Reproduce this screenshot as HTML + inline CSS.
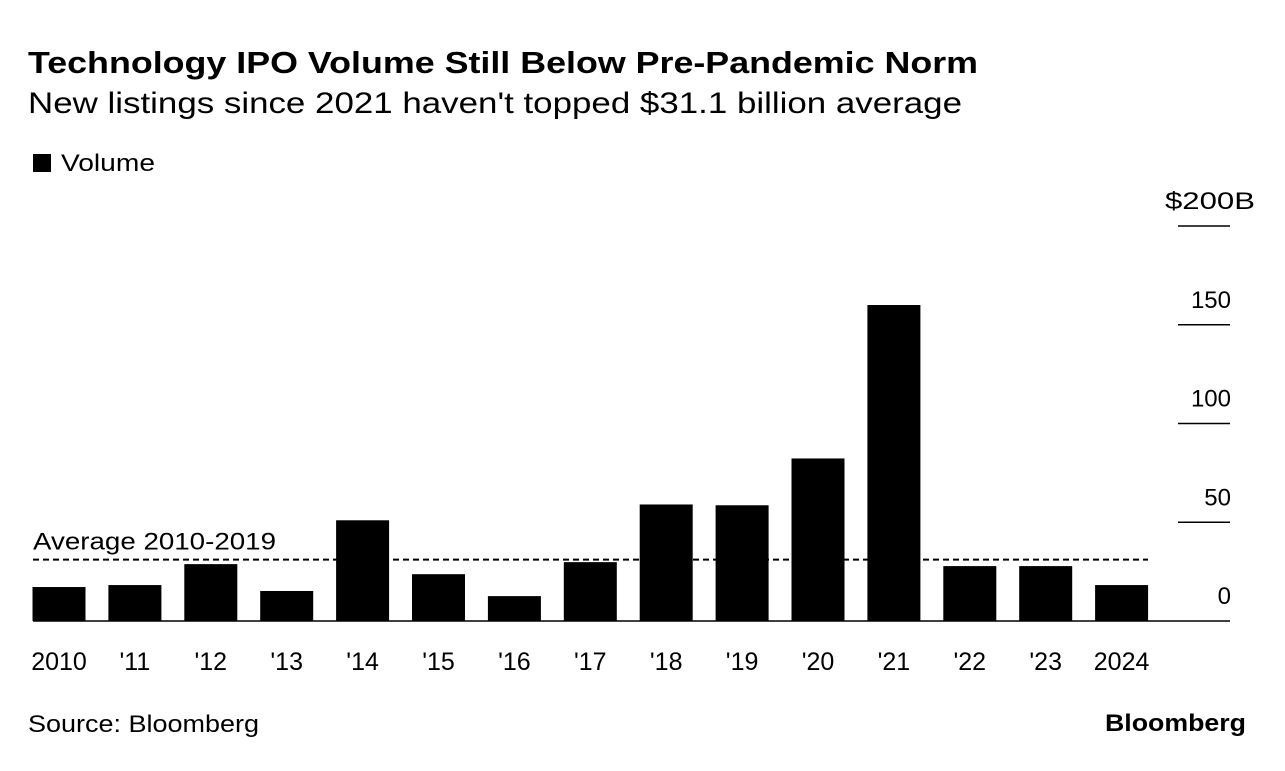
<!DOCTYPE html>
<html><head><meta charset="utf-8"><style>
body{margin:0;background:#fff;width:1285px;height:766px;overflow:hidden;font-family:"Liberation Sans",sans-serif;color:#000}
</style></head><body>
<svg width="1285" height="766" xmlns="http://www.w3.org/2000/svg" font-family="Liberation Sans, sans-serif">
<text x="28" y="73" font-size="31" font-weight="bold" textLength="950" lengthAdjust="spacingAndGlyphs">Technology IPO Volume Still Below Pre-Pandemic Norm</text>
<text x="28" y="113" font-size="30" textLength="934" lengthAdjust="spacingAndGlyphs">New listings since 2021 haven't topped $31.1 billion average</text>
<rect x="33" y="154" width="18" height="18" fill="#000"/>
<text x="61" y="171" font-size="24" textLength="94" lengthAdjust="spacingAndGlyphs">Volume</text>
<g id="axis"></g>
<g id="bars"></g>
<g id="xlabels"></g>
<text x="28" y="732" font-size="24" textLength="231" lengthAdjust="spacingAndGlyphs">Source: Bloomberg</text>
<text x="1105" y="731" font-size="24" font-weight="bold" textLength="141" lengthAdjust="spacingAndGlyphs">Bloomberg</text>
</svg>
<script>
const categories=["2010","'11","'12","'13","'14","'15","'16","'17","'18","'19","'20","'21","'22","'23","2024"];
const volumes=[17.2,18.2,28.8,15.2,51,23.7,12.6,29.8,59,58.6,82.3,160,27.8,27.8,18.2];
const yTicks=[0,50,100,150,200];
const yTickLabels=["0","50","100","150","$200B"];
const averageValue=31.1;
const NS="http://www.w3.org/2000/svg";
const y=v=>621-v*1.975;
const xc=i=>59+i*75.9;
function mk(t,a,p){const e=document.createElementNS(NS,t);for(const k in a)e.setAttribute(k,a[k]);p.appendChild(e);return e;}
const ax=document.getElementById('axis'),bars=document.getElementById('bars'),xl=document.getElementById('xlabels');
yTicks.forEach((t,i)=>{
  const l=mk('line',{x1:t===0?33:1178,x2:1230,y1:y(t),y2:y(t),stroke:'#000','stroke-width':1.5},ax);
  
  
  const attrs={x:i===4?1255:1231,y:y(t)-17,'font-size':24,'text-anchor':'end'};
  if(i===4){attrs.textLength=90;attrs.lengthAdjust='spacingAndGlyphs';}
  const tx=mk('text',attrs,ax);
  tx.textContent=yTickLabels[i];
  
  
});
categories.forEach((c,i)=>{
  const r=mk('rect',{x:xc(i)-26.5,y:y(volumes[i]),width:53,height:621-y(volumes[i]),fill:'#000'},bars);
  
  
  const t=mk('text',{x:xc(i),y:670,'font-size':25,'text-anchor':'middle'},xl);
  t.textContent=c;
  
  
});
const av=mk('line',{x1:33,x2:1148,y1:y(averageValue),y2:y(averageValue),stroke:'#000','stroke-width':2,'stroke-dasharray':'6,4'},bars);


const at=mk('text',{x:33,y:y(averageValue)-10,'font-size':24,textLength:243,lengthAdjust:'spacingAndGlyphs'},bars);
at.textContent='Average 2010-2019';


</script>
</body></html>
